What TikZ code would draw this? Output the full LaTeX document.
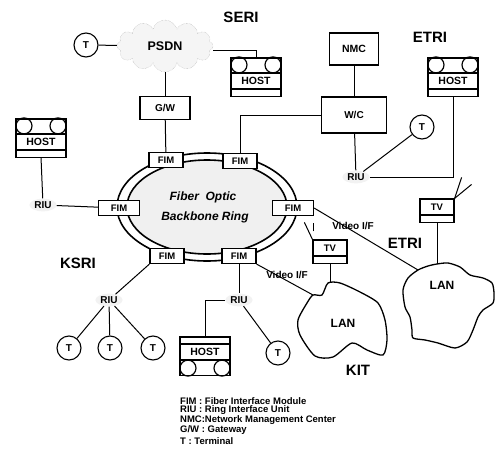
\documentclass[tikz,border=0pt]{standalone}
\usepackage{fontspec}
\setmainfont{Liberation Sans}
\usetikzlibrary{positioning, shapes.geometric, shapes.symbols}

\begin{document}
\begin{tikzpicture}[x=1pt, y=-1pt,
  box/.style={draw, line width=1.2pt, fill=white, inner sep=0pt, font=\fontsize{10}{12}\selectfont\bfseries},
  fimbox/.style={box, minimum width=34pt, minimum height=15pt, font=\fontsize{9.5}{11}\selectfont\bfseries},
  hostbox/.style={box, minimum width=50pt, minimum height=15pt, font=\fontsize{10.5}{12}\selectfont\bfseries},
  tvbox/.style={box, minimum width=34pt, minimum height=16pt, font=\fontsize{9.5}{11}\selectfont\bfseries},
  term/.style={circle, draw, line width=1.1pt, fill=white, minimum size=24pt, inner sep=0pt, font=\fontsize{10}{12}\selectfont\bfseries},
  riu/.style={ellipse, fill=gray!10, inner sep=1pt, font=\fontsize{10}{12}\selectfont\bfseries},
  site/.style={font=\fontsize{15}{18}\selectfont\bfseries},
  lbl/.style={font=\fontsize{10}{12}\selectfont\bfseries},
  link/.style={line width=1pt}]
  \useasboundingbox (0,0) rectangle (496,453);
  % backbone ring: outer and inner fibre, stippled core
  \draw[line width=1.6pt] (207,207) ellipse [x radius=90pt, y radius=54pt];
  \draw[line width=1.6pt, fill=gray!12] (207,207) ellipse [x radius=80pt, y radius=47pt];
  \node[font=\fontsize{12}{14}\selectfont\bfseries\itshape] (fiber) at (203,197) {Fiber\ \ Optic};
  \node[font=\fontsize{12}{14}\selectfont\bfseries\itshape] (backbone) at (205,217) {Backbone Ring};
  % fiber interface modules on the ring
  \node[fimbox] (fim1) at (166,160) {FIM};
  \node[fimbox] (fim2) at (240,161) {FIM};
  \node[fimbox, minimum width=41pt] (fim3) at (119,208) {FIM};
  \node[fimbox] (fim4) at (167,256) {FIM};
  \node[fimbox] (fim5) at (239,256) {FIM};
  \node[fimbox, minimum width=41pt] (fim6) at (293,208) {FIM};
  % site names
  \node[site] (seri) at (241,17) {SERI};
  \node[site] (etri1) at (430,37) {ETRI};
  \node[site] (ksri) at (78,263) {KSRI};
  \node[site] (etri2) at (405,243) {ETRI};
  \node[site] (kit) at (358,370) {KIT};
  % SERI side
  \node[cloud, cloud puffs=12, aspect=2, draw=gray!70, densely dotted, fill=gray!8,
        minimum width=96pt, minimum height=52pt, font=\fontsize{12.5}{14}\selectfont\bfseries] (psdn) at (165,46) {PSDN};
  \node[term] (tS) at (86,45) {T};
  \node[box, minimum width=50pt, minimum height=23pt] (gw) at (165,108) {G/W};
  \node[box, minimum width=49pt, minimum height=32pt, font=\fontsize{10.5}{12}\selectfont\bfseries] (nmc) at (354,49) {NMC};
  \node[box, minimum width=65pt, minimum height=36pt] (wc) at (354,115) {W/C};
  \node[term] (tE) at (422,127) {T};
  \node[riu] (riuE) at (356,177) {RIU};
  % hosts
  \node[hostbox] (hostS) at (256,81) {HOST};
  \node[hostbox] (hostE) at (453,81) {HOST};
  \node[hostbox] (hostK) at (41,142) {HOST};
  \node[hostbox] (hostB) at (205,352) {HOST};
  \foreach \h/\c/\t/\s in {hostS/north/south/1, hostE/north/south/1, hostK/north/south/1, hostB/south/north/-1} {
    \draw[line width=1.2pt] ([xshift=-25pt]\h.\c) rectangle ([xshift=25pt, yshift=\s*15pt]\h.\c);
    \draw[line width=1.2pt] ([xshift=-17pt, yshift=\s*8pt]\h.\c) circle (8pt)
                            ([xshift=17pt, yshift=\s*8pt]\h.\c) circle (8pt);
    \draw[line width=1.2pt] ([xshift=-25pt]\h.\t) rectangle ([xshift=25pt, yshift=\s*(-7pt)]\h.\t);
  }
  % KSRI side
  \node[riu] (riuK) at (43,205) {RIU};
  \node[riu] (riuB1) at (109,300) {RIU};
  \node[riu] (riuB2) at (239,300) {RIU};
  \node[term] (tB1) at (69,348) {T};
  \node[term] (tB2) at (110,348) {T};
  \node[term] (tB3) at (153,348) {T};
  \node[term] (tB4) at (278,353) {T};
  % video terminals
  \node[tvbox] (tvK) at (330,248) {TV};
  \node[tvbox] (tvE) at (437,207) {TV};
  \foreach \v in {tvK, tvE}
    \draw[line width=1.2pt] ([xshift=-17pt]\v.south) rectangle ([xshift=17pt, yshift=-7pt]\v.south);
  \draw[link] (tvK.north west) -- ++(-8,-17);
  \draw[link] ([xshift=1pt, yshift=8pt]tvK.north west) -- ++(0,-8);
  \draw[link] (tvE.north east) -- ++(7,-21);
  \draw[link] (tvE.north east) -- ++(17,-14);
  % LANs
  \draw[line width=1.3pt] plot[smooth cycle, tension=0.45] coordinates {(328,283) (340,283) (360,292) (378,303) (385,320)
    (387,340) (383,355) (367,350) (352,343) (333,357) (315,356) (300,335) (298,320) (307,303) (313,295) (322,295)};
  \draw[line width=1.3pt] plot[smooth cycle, tension=0.45] coordinates {(418,270) (428,266) (437,264) (448,263) (460,267)
    (470,275) (483,278) (492,283) (494,293) (493,303) (483,310) (478,317) (473,330) (467,342) (455,348) (438,343)
    (425,340) (413,338) (412,330) (410,317) (405,307) (403,290) (408,278)};
  \node[font=\fontsize{12}{14}\selectfont\bfseries] (lanK) at (343,323) {LAN};
  \node[font=\fontsize{12}{14}\selectfont\bfseries] (lanE) at (442,285) {LAN};
  \coordinate (lanKtop) at (330,283);
  \coordinate (lanKtip) at (313,295);
  \coordinate (lanEtop) at (437,264);
  \coordinate (lanEtip) at (418,270);
  % connectors
  \draw[link] (tS) -- (psdn);
  \draw[link] (psdn) -- (gw);
  \draw[link] ([yshift=-4pt]psdn.east) -| ([yshift=15pt]hostS.north);
  \draw[link] (gw) -- (fim1);
  \draw[link] (fim2.north) |- (wc.west);
  \draw[link] (nmc) -- (wc);
  \draw[link] (wc) -- (riuE);
  \draw[link] (tE) -- (riuE);
  \draw[link] (riuE.east) -| ([yshift=-7pt]hostE.south);
  \draw[link] ([yshift=-7pt]hostK.south) -- (riuK);
  \draw[link] (riuK) -- (fim3);
  \draw[link] (fim4.south west) -- (riuB1);
  \foreach \t in {tB1, tB2, tB3}
    \draw[link] (riuB1) -- (\t);
  \draw[link] (fim5) -- (riuB2);
  \draw[link] (riuB2.west) -| ([yshift=7pt]hostB.north);
  \draw[link] (riuB2) -- (tB4);
  \draw[link] (fim5.south east) -- (lanKtip);
  \draw[link] (fim6.east) -- (lanEtip);
  \draw[link] ([yshift=-7pt]tvK.south) -- (lanKtop);
  \draw[link] ([yshift=-7pt]tvE.south) -- (lanEtop);
  \node[lbl] (vif1) at (287,275) {Video I/F};
  \node[lbl] (vif2) at (353,226) {Video I/F};
  % legend
  \node[anchor=north west, align=left, inner sep=0pt, font=\fontsize{9.5}{8.8}\selectfont\bfseries] (legend) at (180,397)
    {FIM : Fiber Interface Module\\ RIU : Ring Interface Unit\\ NMC:Network Management Center\\ G/W : Gateway\\[1.5pt] T : Terminal};
\end{tikzpicture}
\end{document}
